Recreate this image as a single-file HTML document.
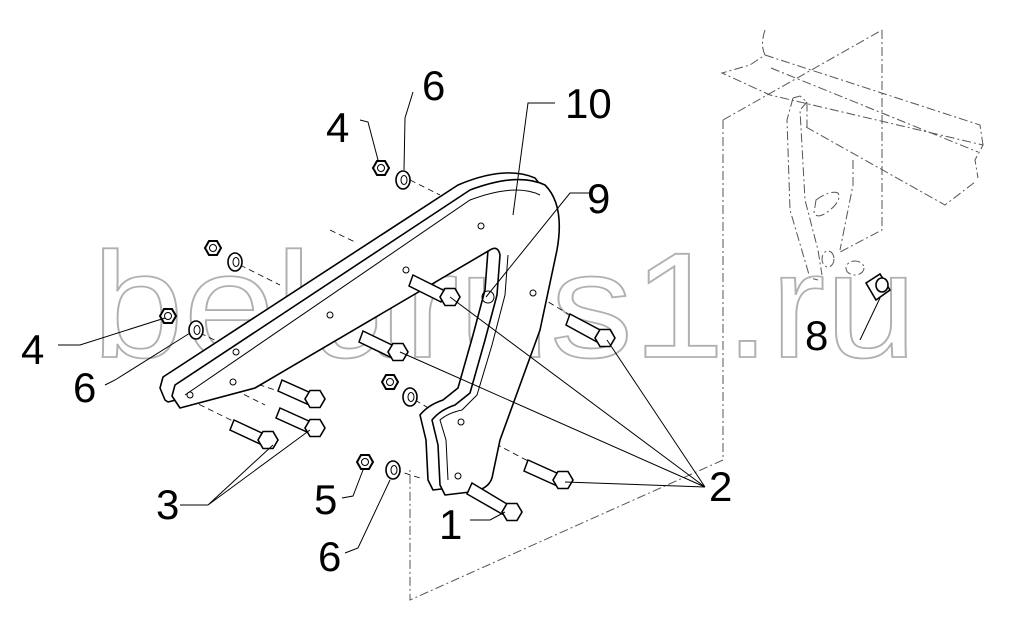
<!DOCTYPE html>
<html><head><meta charset="utf-8"><style>
html,body{margin:0;padding:0;background:#fff;}
svg{display:block;}
.l{font-family:"Liberation Sans",sans-serif;font-size:42px;fill:#000;}
.wm{font-family:"Liberation Sans",sans-serif;font-size:150px;fill:none;stroke:#b0b0b0;stroke-width:1.8;}
</style></head><body>
<svg width="1011" height="629" viewBox="0 0 1011 629" xmlns="http://www.w3.org/2000/svg">
<defs>
<g id="nut"><polygon points="8,0 4,7 -4,7 -8,0 -4,-7 4,-7" fill="#fff" stroke="#000" stroke-width="2"/><circle r="3.5" fill="none" stroke="#000" stroke-width="1"/></g>
<g id="wash"><ellipse rx="7" ry="9" fill="#fff" stroke="#000" stroke-width="1.6"/><ellipse cx="1" rx="3" ry="4.5" fill="none" stroke="#000" stroke-width="1"/></g>
<g id="head"><polygon points="10,0 5,8.5 -5,8.5 -10,0 -5,-8.5 5,-8.5" fill="#fff" stroke="#000" stroke-width="1.6"/></g>
</defs>
<rect width="1011" height="629" fill="#fff"/>
<!-- right bracket, dash-dot gray -->
<g fill="none" stroke="#555" stroke-width="1" stroke-dasharray="9,3,2,3">
<path d="M723 120 L723 460 L410 600 L410 470"/>
<path d="M882 30 L882 230 L840 252"/>
<path d="M723 120 L882 30"/>
<path d="M765 30 Q760 45 765 55 L750 65 L722 73 L770 95 L983 145 L975 160 L978 178"/>
<path d="M765 55 L980 125 L983 145"/>
<path d="M771 68 L978 152"/>
<path d="M806 127 L945 205 L975 182"/>
<path d="M793 98 L787 120 L790 210 L810 278 L818 280"/>
<path d="M793 98 L800 96 L807 102 L807 127"/>
<path d="M807 102 L800 110 L805 200 L818 250 L822 275"/>
<path d="M853 160 L853 185 L840 250"/>
<path d="M816 200 Q830 190 838 193 Q842 200 830 210 Q818 220 814 213 Z"/>
<ellipse cx="828" cy="259" rx="6" ry="8"/>
<ellipse cx="855" cy="268" rx="9" ry="7"/>
</g>
<!-- watermark -->
<text class="wm" x="92" y="357" textLength="825" lengthAdjust="spacingAndGlyphs">belarus1.ru</text>
<!-- dashed hole lines -->
<g fill="none" stroke="#000" stroke-width="0.8" stroke-dasharray="6,4">
<path d="M410 180 L440 195 M240 265 L280 285 M200 333 L225 345 M415 400 L440 415 M395 470 L420 478"/>
<path d="M330 230 L355 242 M485 237 L510 248 M540 297 L570 315 M230 375 L275 390 M235 390 L265 405"/>
<path d="M460 425 L530 462 M460 465 L470 485 M190 400 L235 422"/>
</g>
<!-- frame -->
<g fill="#fff" stroke="#000" stroke-width="1.6" stroke-linejoin="round">
<path d="M165 400 L160 388 L163 377 L458 185 Q505 165 535 178 Q553 198 545 245 L528 325 L488 435 L480 473 Q476 485 458 487 L433 490 L428 480 L426 440 L420 415 Q428 405 443 400 L458 388 L473 335 L485 290 L488 250 Q486 240 478 245 L243 383 L168 402 Z"/>
<path d="M180 408 L172 396 L175 385 L470 190 Q518 172 545 185 Q565 205 557 250 L540 330 L500 440 L492 478 Q488 490 470 492 L445 495 L440 485 L438 445 L432 420 Q440 410 455 405 L470 393 L485 340 L497 295 L500 255 Q498 245 490 250 L255 388 L180 408 Z"/>
</g>
<g fill="none" stroke="#000" stroke-width="1">
<path d="M185 395 L470 200 Q515 183 540 195"/>
<path d="M448 480 L446 440 L440 420 Q448 413 462 410 L477 395 L492 345 L505 295 L508 255"/>
<circle cx="236" cy="352" r="3"/><circle cx="233" cy="382" r="3"/><circle cx="190" cy="395" r="3"/>
<circle cx="481" cy="226" r="3"/><circle cx="406" cy="270" r="3"/><circle cx="533" cy="293" r="3"/>
<circle cx="461" cy="422" r="3"/><circle cx="458" cy="476" r="3"/><circle cx="488" cy="297" r="6"/>
<circle cx="330" cy="315" r="3"/>
</g>
<!-- bolts -->
<g fill="#fff" stroke="#000" stroke-width="1.5">
<path d="M413 275 L445 291 L441 302 L409 286 Z"/><use href="#head" x="450" y="297"/>
<path d="M570 314 L602 331 L597 342 L566 325 Z"/><use href="#head" x="605" y="338"/>
<path d="M363 331 L394 346 L390 357 L359 342 Z"/><use href="#head" x="398" y="352"/>
<path d="M282 380 L311 393 L307 404 L278 391 Z"/><use href="#head" x="315" y="399"/>
<path d="M280 408 L311 422 L307 432 L276 418 Z"/><use href="#head" x="315" y="428"/>
<path d="M234 420 L264 434 L260 444 L230 430 Z"/><use href="#head" x="268" y="440"/>
<path d="M528 460 L559 474 L555 485 L524 471 Z"/><use href="#head" x="563" y="480"/>
<path d="M472 483 L507 504 L502 514 L467 494 Z"/><use href="#head" x="512" y="512"/>
</g>
<use href="#nut" x="381" y="168"/><use href="#wash" x="403" y="180"/>
<use href="#nut" x="213" y="248"/><use href="#wash" x="235" y="262"/>
<use href="#nut" x="168" y="316"/><use href="#wash" x="196" y="330"/>
<use href="#nut" x="390" y="382"/><use href="#wash" x="410" y="397"/>
<use href="#nut" x="365" y="462"/><use href="#wash" x="393" y="470"/>
<g fill="#fff" stroke="#000" stroke-width="1.6">
<path d="M866 283 L880 274 L890 290 L876 300 Z"/><ellipse cx="882" cy="285" rx="6" ry="7"/>
</g>
<!-- leaders -->
<g fill="none" stroke="#000" stroke-width="1">
<path d="M413 92 L405 118 L404 170"/>
<path d="M360 120 L368 122 L378 160"/>
<path d="M555 103 L528 103 L513 215"/>
<path d="M590 193 L570 193 L486 297"/>
<path d="M58 345 L80 345 L165 318 M105 385 L115 380 L190 333"/>
<path d="M180 505 L208 505 L273 445 M208 505 L310 430"/>
<path d="M342 498 L353 496 L363 470 M345 553 L358 548 L390 480 M470 520 L490 520 L505 512"/>
<path d="M705 487 L450 297 M705 487 L607 340 M705 487 L400 352 M705 487 L565 482 M860 340 L880 298"/>
</g>
<text class="l" x="422" y="100">6</text>
<text class="l" x="326" y="142">4</text>
<text class="l" x="565" y="118">10</text>
<text class="l" x="587" y="213">9</text>
<text class="l" x="21" y="364">4</text>
<text class="l" x="73" y="402">6</text>
<text class="l" x="805" y="350">8</text>
<text class="l" x="709" y="501">2</text>
<text class="l" x="156" y="519">3</text>
<text class="l" x="314" y="514">5</text>
<text class="l" x="439" y="539">1</text>
<text class="l" x="318" y="571">6</text>
</svg>
</body></html>
